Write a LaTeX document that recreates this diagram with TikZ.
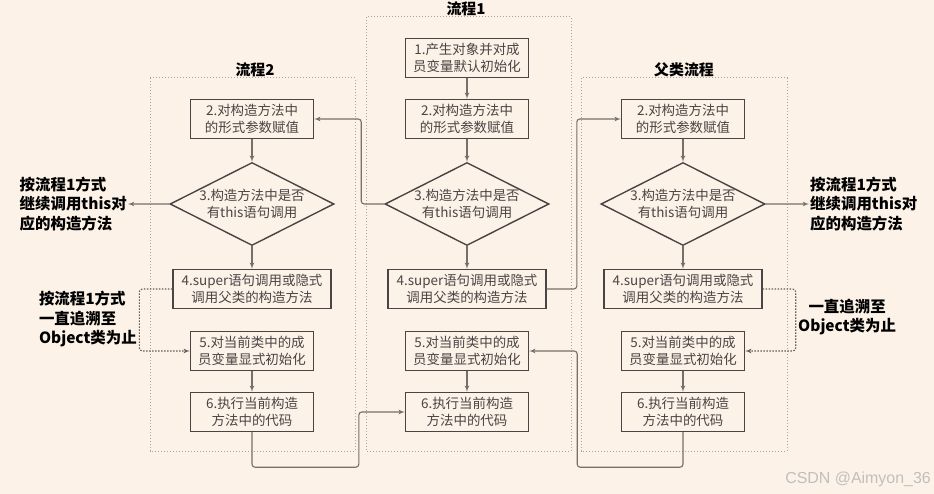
\documentclass[tikz,border=0pt]{standalone}
\usepackage{fontspec}
\setmainfont{Noto Sans CJK SC}
\newfontfamily\wmfont{Liberation Sans}
\usetikzlibrary{shapes.geometric, arrows}
\definecolor{paper}{HTML}{FCF2E7}
\definecolor{boxline}{HTML}{4A4444}
\definecolor{wire}{HTML}{776F69}
\definecolor{framegray}{HTML}{A9A39D}
\tikzstyle{block} = [draw=boxline, line width=1.4bp, rectangle, text=boxline, align=center,
minimum width=123bp, minimum height=39bp, inner sep=1bp, font=\fontsize{13.5}{17}\selectfont]
\tikzstyle{wideblock} = [block, minimum width=158bp]
\tikzstyle{decision} = [block, diamond, aspect=2, minimum width=164bp, minimum height=83bp, inner sep=-3bp]
\tikzstyle{note} = [align=left, inner sep=1bp, font=\fontsize{15.5}{19.5}\selectfont\bfseries]
\tikzstyle{title} = [inner sep=1bp, font=\fontsize{15}{18}\selectfont\bfseries]
\tikzstyle{frame} = [draw=framegray, line width=1bp, dash pattern=on 1.2bp off 1.8bp]
\tikzstyle{line} = [draw=wire, line width=1.1bp, rounded corners=3bp, ->]
\tikzstyle{dotline} = [line, draw=wire!85!black, dash pattern=on 1.5bp off 1.5bp]

\begin{document}
\begin{tikzpicture}[x=1bp, y=-1bp, node distance=61bp, >=latex']
	\fill[paper] (0,0) rectangle (934,494);
	\useasboundingbox (0,0) rectangle (934,494);
	% The three dotted frames with their titles
	\draw[frame] (366,17) rectangle (571,451);
	\draw[frame] (150,78) rectangle (355,451);
	\draw[frame] (581,78) rectangle (787,451);
	\node[title] (title1) at (466,9) {流程1};
	\node[title] (title2) at (255,70) {流程2};
	\node[title] (titlep) at (684,70) {父类流程};

	% Flow 1 in the middle
	\node[block] (m1) at (467,58) {1.产生对象并对成\\员变量默认初始化};
	\node[block, below of=m1] (m2) {2.对构造方法中\\的形式参数赋值};
	\node[decision, below of=m2, node distance=85bp] (m3) {3.构造方法中是否\\有this语句调用};
	\node[wideblock, below of=m3, node distance=85bp] (m4) {4.super语句调用或隐式\\调用父类的构造方法};
	\node[block, below of=m4, node distance=62bp] (m5) {5.对当前类中的成\\员变量显式初始化};
	\node[block, below of=m5] (m6) {6.执行当前构造\\方法中的代码};

	% Flow 2 on the left
	\node[block] (l2) at (252,119) {2.对构造方法中\\的形式参数赋值};
	\node[decision, below of=l2, node distance=85bp] (l3) {3.构造方法中是否\\有this语句调用};
	\node[wideblock, below of=l3, node distance=85bp] (l4) {4.super语句调用或隐式\\调用父类的构造方法};
	\node[block, below of=l4, node distance=62bp] (l5) {5.对当前类中的成\\员变量显式初始化};
	\node[block, below of=l5] (l6) {6.执行当前构造\\方法中的代码};

	% Parent class flow on the right
	\node[block] (p2) at (683,119) {2.对构造方法中\\的形式参数赋值};
	\node[decision, below of=p2, node distance=85bp] (p3) {3.构造方法中是否\\有this语句调用};
	\node[wideblock, below of=p3, node distance=85bp] (p4) {4.super语句调用或隐式\\调用父类的构造方法};
	\node[block, below of=p4, node distance=62bp] (p5) {5.对当前类中的成\\员变量显式初始化};
	\node[block, below of=p5] (p6) {6.执行当前构造\\方法中的代码};

	% Side notes
	\node[note, anchor=east] (lthis) at (128,204) {按流程1方式\\继续调用this对\\应的构造方法};
	\node[note, anchor=west] (pthis) at (809,204) {按流程1方式\\继续调用this对\\应的构造方法};
	\node[note, anchor=east] (lobj) at (138,319) {按流程1方式\\一直追溯至\\Object类为止};
	\node[note, anchor=west, align=center] (pobj) at (797,317) {一直追溯至\\Object类为止};
	\node[text=black!25, anchor=east, inner sep=0pt, font=\wmfont\fontsize{16}{18}\selectfont] (mark) at (931,479) {CSDN @Aimyon\_36};

	% Once the nodes are placed, connecting them is easy.
	\foreach \col in {m,l,p} {
		\draw[line] (\col2) -- (\col3);
		\draw[line] (\col3) -- (\col4);
		\draw[line] (\col5) -- (\col6);
	}
	\draw[line] (m1) -- (m2);
	\draw[line] (m3.west) -| ([xshift=47bp]l2.east) -- (l2.east);
	\draw[line] (m4.east) -| ([xshift=-44bp]p2.west) -- (p2.west);
	\draw[line] (l6.south) -- ++(0,35) -| ([xshift=-46bp]m6.west) -- (m6.west);
	\draw[line] (p6.south) -- ++(0,35) -| ([xshift=48bp]m5.east) -- (m5.east);
	\draw[line] (l3.west) -- (lthis.east);
	\draw[line] (p3.east) -- (pthis.west);
	\draw[dotline] (l4.west) -- ++(-33,0) |- (l5.west);
	\draw[dotline] (p4.east) -- ++(33,0) |- (p5.east);
\end{tikzpicture}
\end{document}
